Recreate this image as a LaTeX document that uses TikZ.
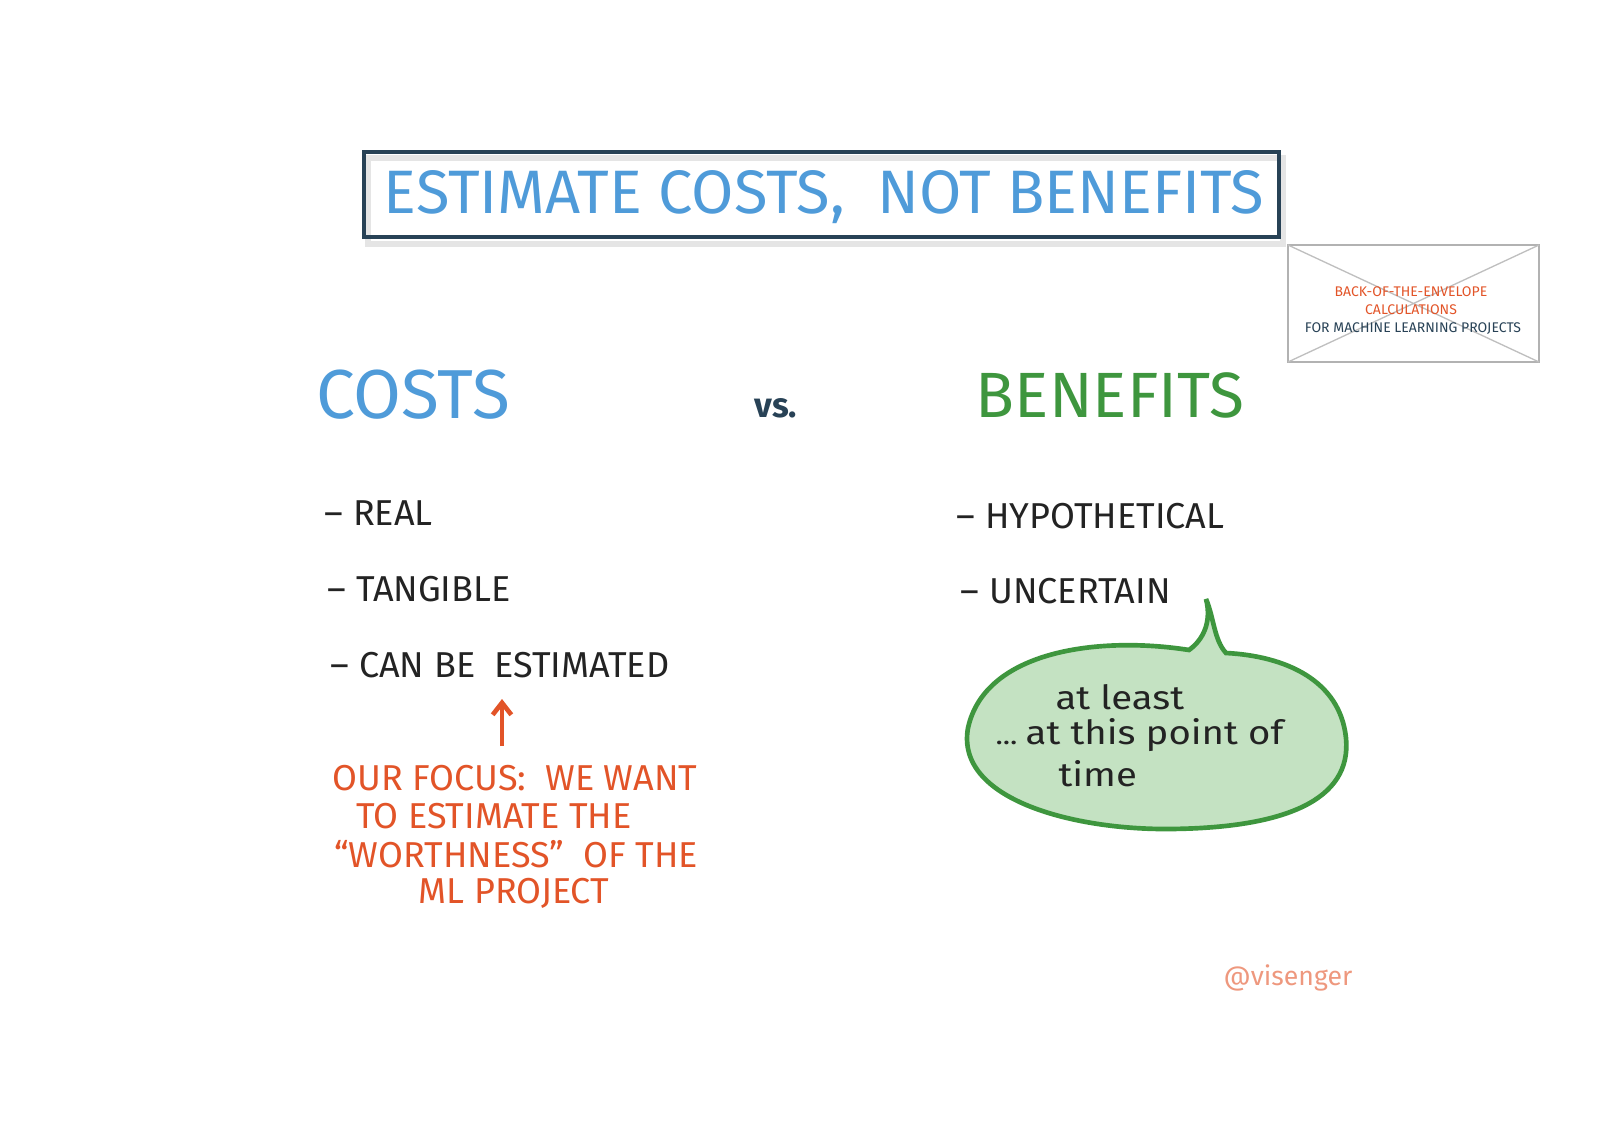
\documentclass[tikz,border=0pt]{standalone}
\usepackage{fontspec}
\setmainfont{Fira Sans}
\newfontfamily\handfont[FakeStretch=1.15]{Fira Sans}
\usetikzlibrary{arrows.meta}
\definecolor{titleblue}{RGB}{79,155,217}
\definecolor{boxnavy}{RGB}{40,66,86}
\definecolor{benefitgreen}{RGB}{62,150,62}
\definecolor{focusorange}{RGB}{226,84,40}
\definecolor{bubblefill}{RGB}{196,226,194}
\definecolor{inkdark}{RGB}{35,35,35}

\tikzset{every picture/.style={line width=0.75pt}}
\tikzset{
  listitem/.style={anchor=west,text=inkdark,font=\fontsize{27}{29}\selectfont},
  focustext/.style={text=focusorange,font=\fontsize{27}{29}\selectfont},
  envtext/.style={font=\fontsize{10.5}{12}\selectfont},
  bubbletext/.style={anchor=west,inner sep=0pt,text=inkdark,font=\handfont\fontsize{25}{27}\selectfont}
}

\begin{document}
\begin{tikzpicture}[x=0.75pt,y=0.75pt,yscale=-1,xscale=1]
\useasboundingbox (0,0) rectangle (1600,1130);

%Shape: Rectangle [id:title box shadow]
\draw [color=black!10, line width=4] (368,158) -- (1283,158) -- (1283,244) -- (368,244) -- cycle ;
%Shape: Rectangle [id:title box]
\draw [color=boxnavy, line width=3.5] (364,152) -- (1279,152) -- (1279,237) -- (364,237) -- cycle ;

% Text Node
\draw (824,197) node (title) [text=titleblue, font=\fontsize{46}{50}\selectfont] {ESTIMATE COSTS,\ \ NOT BENEFITS};

%Shape: Envelope [id:envelope]
\draw [color=black!30, line width=1] (1288,245) -- (1539,245) -- (1539,362) -- (1288,362) -- cycle ;
\draw [color=black!25, line width=1] (1288,245) -- (1539,362) ;
\draw [color=black!25, line width=1] (1539,245) -- (1288,362) ;

% Text Node
\draw (1411,292) node (envline1) [envtext, text=focusorange] {BACK-OF-THE-ENVELOPE};
% Text Node
\draw (1411,310) node (envline2) [envtext, text=focusorange] {CALCULATIONS};
% Text Node
\draw (1413,329) node (envline3) [envtext, text=boxnavy] {FOR MACHINE LEARNING PROJECTS};

% Text Node
\draw (413,395) node (costs) [text=titleblue, font=\fontsize{52}{54}\selectfont] {COSTS};
% Text Node
\draw (776,408) node (versus) [text=boxnavy, font=\bfseries\fontsize{26}{28}\selectfont] {vs.};
% Text Node
\draw (1110,395) node (benefits) [text=benefitgreen, font=\fontsize{48}{50}\selectfont] {BENEFITS};

% Text Node
\draw (320,513) node (real) [listitem] {– REAL};
% Text Node
\draw (323,589) node (tangible) [listitem] {– TANGIBLE};
% Text Node
\draw (326,665) node (estimated) [listitem] {– CAN BE\ \ ESTIMATED};

% Text Node
\draw (952,516) node (hypothetical) [listitem] {– HYPOTHETICAL};
% Text Node
\draw (956,591) node (uncertain) [listitem] {– UNCERTAIN};

%Straight Lines [id:focus arrow]
\coordinate (arrowtail) at (502,746);
\coordinate (arrowtip) at (502,699);
\draw [color=focusorange, line width=3.5, -{Straight Barb[length=9pt,width=14pt]}] (arrowtail) -- (arrowtip) ;

% Text Node
\draw (515,778) node (focus1) [focustext] {OUR FOCUS:\ \ WE WANT};
% Text Node
\draw (494,816) node (focus2) [focustext] {TO ESTIMATE THE};
% Text Node
\draw (516,854) node (focus3) [focustext] {``WORTHNESS''\ \ OF THE};
% Text Node
\draw (514,893) node (focus4) [focustext] {ML PROJECT};

%Shape: Speech Bubble [id:bubble]
\draw [color=benefitgreen, fill=bubblefill, line width=3.5]
  (1189,650) .. controls (1100,636) and (985,650) .. (968,728)
  .. controls (955,800) and (1075,830) .. (1170,829)
  .. controls (1285,828) and (1352,800) .. (1346,738)
  .. controls (1340,680) and (1285,656) .. (1226,653)
  .. controls (1214,640) and (1214,618) .. (1206,599)
  .. controls (1212,622) and (1203,640) .. (1189,650) -- cycle ;

% Text Node
\draw (1055,697) node (atleast) [bubbletext] {at least};
% Text Node
\draw (995,735) node (thispoint) [bubbletext] {\fontsize{20}{22}\selectfont...\ \fontsize{25}{27}\selectfont at this point of};
% Text Node
\draw (1058,774) node (time) [bubbletext] {time};

% Text Node
\draw (1288,978) node (signature) [text=focusorange!60, font=\fontsize{20}{22}\selectfont] {@visenger};

\end{tikzpicture}
\end{document}
